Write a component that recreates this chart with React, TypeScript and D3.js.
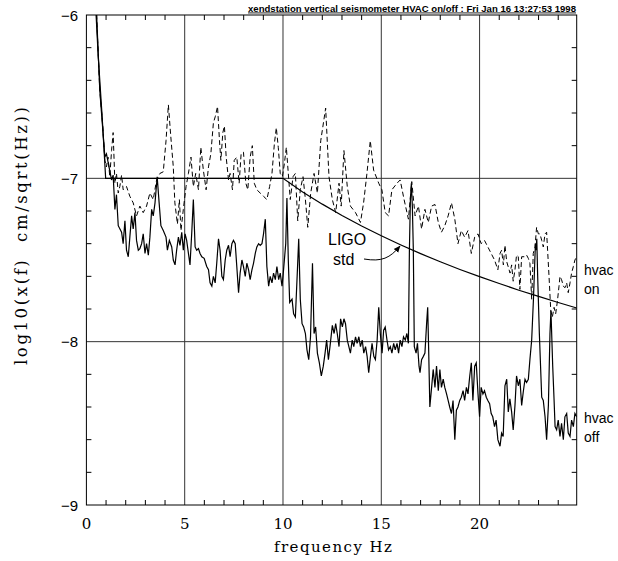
import React from 'react';
import * as d3 from 'd3';

const titleText = 'xendstation vertical seismometer HVAC on/off : Fri Jan 16 13:27:53 1998';
const xTickValues = [0, 5, 10, 15, 20];
const xTickLabels = ['0', '5', '10', '15', '20'];
const yTickValues = [-6, -7, -8, -9];
const yTickLabels = ['\u22126', '\u22127', '\u22128', '\u22129'];
const xGridValues = [5, 10, 15, 20];
const yGridValues = [-7, -8];

// hvac on (dashed)
const hvacOn: [number, number][] = [
  [0.40,-5.85],[0.52,-6.0],[0.68,-6.46],[0.82,-6.66],[0.94,-6.89],[1.02,-6.93],[1.1,-6.87],[1.19,-6.99],[1.28,-6.83],[1.36,-6.72],
  [1.45,-7.03],[1.53,-6.97],[1.62,-7.09],[1.70,-7.05],[1.79,-6.98],[1.87,-7.07],[2.04,-7.05],[2.21,-7.11],[2.38,-7.15],[2.55,-7.23],
  [2.72,-7.17],[2.89,-7.21],[3.06,-7.17],[3.23,-7.09],[3.40,-7.13],[3.57,-7.01],[3.74,-6.97],[3.91,-6.96],[4.05,-6.77],[4.17,-6.55],
  [4.29,-6.74],[4.42,-6.93],[4.50,-7.15],[4.63,-7.28],[4.73,-7.13],[4.81,-7.32],[4.93,-7.19],[5.07,-7.05],[5.19,-6.97],[5.32,-6.87],
  [5.44,-7.05],[5.56,-6.97],[5.70,-7.07],[5.82,-6.81],[5.95,-6.95],[6.09,-7.07],[6.21,-6.93],[6.33,-6.85],[6.46,-6.66],[6.56,-6.62],
  [6.67,-6.56],[6.77,-6.77],[6.84,-6.89],[6.94,-6.72],[7.02,-6.68],[7.11,-6.87],[7.23,-7.01],[7.31,-6.97],[7.43,-7.07],[7.52,-6.89],
  [7.65,-6.87],[7.77,-7.03],[7.87,-6.85],[7.99,-6.84],[8.11,-7.03],[8.21,-7.07],[8.33,-6.87],[8.44,-6.80],[8.54,-7.03],[8.67,-7.07],
  [8.84,-7.09],[9.01,-7.11],[9.18,-7.13],[9.32,-7.05],[9.44,-6.97],[9.56,-6.79],[9.66,-6.69],[9.76,-6.81],[9.86,-6.97],[9.97,-6.99],
  [10.07,-6.91],[10.17,-6.81],[10.27,-6.97],[10.37,-7.13],[10.51,-6.99],[10.63,-6.97],[10.75,-7.26],[10.88,-7.07],[11.02,-6.99],[11.14,-7.13],
  [11.26,-7.30],[11.41,-7.09],[11.58,-6.97],[11.75,-7.09],[11.92,-6.77],[12.17,-6.57],[12.34,-6.99],[12.51,-7.13],[12.68,-7.21],[12.85,-7.03],
  [12.96,-7.17],[13.1,-6.83],[13.27,-7.05],[13.43,-7.17],[13.69,-7.21],[13.94,-7.27],[14.1,-7.15],[14.27,-6.97],[14.44,-6.77],[14.61,-6.95],
  [14.87,-7.03],[15.03,-7.07],[15.2,-7.21],[15.37,-7.23],[15.54,-7.07],[15.8,-7.03],[15.96,-7.01],[16.16,-7.13],[16.38,-7.25],[16.55,-7.02],
  [16.72,-7.23],[16.89,-7.17],[17.05,-7.31],[17.22,-7.19],[17.39,-7.27],[17.56,-7.17],[17.73,-7.16],[17.9,-7.27],[18.06,-7.33],[18.23,-7.29],
  [18.4,-7.23],[18.57,-7.15],[18.74,-7.25],[18.9,-7.40],[19.07,-7.32],[19.24,-7.36],[19.41,-7.32],[19.58,-7.46],[19.75,-7.36],[19.92,-7.34],
  [20.08,-7.40],[20.25,-7.38],[20.42,-7.42],[20.59,-7.46],[20.76,-7.50],[20.93,-7.56],[21.04,-7.46],[21.12,-7.44],[21.21,-7.53],[21.29,-7.41],
  [21.38,-7.51],[21.55,-7.58],[21.63,-7.53],[21.71,-7.63],[21.80,-7.56],[21.88,-7.47],[21.97,-7.48],[22.05,-7.68],[22.14,-7.48],[22.3,-7.48],
  [22.39,-7.47],[22.48,-7.49],[22.56,-7.52],[22.65,-7.74],[22.73,-7.46],[22.82,-7.42],[22.9,-7.30],[22.99,-7.34],[23.07,-7.34],[23.16,-7.38],
  [23.24,-7.42],[23.33,-7.34],[23.41,-7.33],[23.46,-7.44],[23.55,-7.64],[23.62,-7.81],[23.7,-7.85],[23.79,-7.79],[23.87,-7.83],[23.96,-7.75],
  [24.04,-7.66],[24.09,-7.60],[24.17,-7.62],[24.26,-7.66],[24.34,-7.67],[24.43,-7.64],[24.51,-7.70],[24.6,-7.64],[24.68,-7.58],[24.77,-7.54],
  [24.85,-7.50],[24.94,-7.48]
];

// hvac off (solid)
const hvacOff: [number, number][] = [
  [0.40,-5.85],[0.52,-6.0],[0.68,-6.46],[0.94,-6.87],[1.02,-6.85],[1.15,-6.93],[1.28,-7.01],[1.36,-6.98],[1.45,-7.19],[1.53,-7.1],
  [1.62,-7.29],[1.79,-7.33],[1.87,-7.40],[1.96,-7.26],[2.04,-7.44],[2.13,-7.48],[2.21,-7.36],[2.30,-7.23],[2.38,-7.31],[2.47,-7.21],
  [2.55,-7.38],[2.64,-7.44],[2.72,-7.43],[2.81,-7.40],[2.89,-7.34],[2.98,-7.46],[3.06,-7.40],[3.15,-7.47],[3.23,-7.36],[3.32,-7.19],
  [3.40,-7.23],[3.49,-7.15],[3.60,-6.99],[3.70,-7.15],[3.79,-7.29],[3.91,-7.32],[4.05,-7.36],[4.12,-7.44],[4.22,-7.38],[4.34,-7.42],
  [4.42,-7.50],[4.51,-7.53],[4.59,-7.44],[4.68,-7.36],[4.76,-7.41],[4.85,-7.33],[4.93,-7.44],[5.02,-7.34],[5.10,-7.38],[5.27,-7.53],
  [5.36,-7.33],[5.44,-7.13],[5.53,-7.42],[5.61,-7.44],[5.70,-7.43],[5.78,-7.46],[5.87,-7.48],[5.99,-7.49],[6.12,-7.54],[6.21,-7.56],
  [6.29,-7.64],[6.38,-7.66],[6.46,-7.60],[6.55,-7.64],[6.63,-7.52],[6.72,-7.37],[6.80,-7.44],[6.89,-7.60],[6.97,-7.62],[7.06,-7.50],
  [7.14,-7.44],[7.23,-7.41],[7.31,-7.48],[7.40,-7.40],[7.48,-7.38],[7.57,-7.40],[7.65,-7.54],[7.74,-7.70],[7.82,-7.58],[7.91,-7.50],
  [7.99,-7.54],[8.08,-7.60],[8.16,-7.52],[8.25,-7.56],[8.33,-7.62],[8.42,-7.56],[8.50,-7.52],[8.59,-7.46],[8.67,-7.42],[8.76,-7.40],
  [8.84,-7.41],[8.93,-7.40],[9.01,-7.34],[9.10,-7.25],[9.18,-7.54],[9.27,-7.66],[9.35,-7.60],[9.44,-7.64],[9.52,-7.58],[9.61,-7.62],
  [9.69,-7.54],[9.78,-7.62],[9.86,-7.58],[9.95,-7.66],[10.0,-7.60],[10.07,-7.50],[10.14,-7.40],[10.2,-7.12],[10.27,-7.50],[10.34,-7.76],
  [10.46,-7.74],[10.54,-7.83],[10.63,-7.85],[10.72,-7.60],[10.80,-7.37],[10.88,-7.74],[10.97,-7.89],[11.05,-7.91],[11.14,-7.95],[11.22,-8.05],
  [11.31,-8.11],[11.40,-7.97],[11.50,-7.52],[11.58,-7.95],[11.66,-7.91],[11.75,-8.07],[11.85,-8.13],[11.95,-8.21],[12.05,-8.15],[12.14,-8.07],
  [12.22,-7.99],[12.31,-8.11],[12.39,-8.03],[12.51,-7.90],[12.6,-7.95],[12.68,-7.89],[12.76,-7.95],[12.85,-8.03],[12.93,-7.86],[13.02,-7.91],
  [13.1,-7.86],[13.18,-7.89],[13.27,-7.99],[13.35,-8.03],[13.43,-8.07],[13.52,-7.99],[13.6,-8.03],[13.69,-7.97],[13.77,-8.01],[13.86,-7.97],
  [13.94,-8.03],[14.03,-7.99],[14.11,-8.07],[14.2,-8.03],[14.28,-8.09],[14.36,-8.19],[14.45,-8.09],[14.53,-8.01],[14.62,-8.09],[14.7,-8.11],
  [14.79,-7.99],[14.87,-7.79],[14.95,-7.95],[15.04,-8.07],[15.12,-7.93],[15.2,-7.91],[15.29,-7.99],[15.37,-8.05],[15.46,-8.03],[15.54,-8.07],
  [15.63,-8.01],[15.71,-8.05],[15.8,-8.01],[15.88,-8.07],[15.96,-7.99],[16.05,-8.03],[16.13,-7.97],[16.22,-7.99],[16.3,-7.95],[16.38,-8.01],
  [16.43,-7.44],[16.48,-7.13],[16.53,-7.03],[16.58,-7.17],[16.63,-7.44],[16.68,-8.03],[16.77,-8.07],[16.84,-8.01],[16.92,-8.15],[16.97,-8.19],
  [17.05,-8.11],[17.14,-8.09],[17.22,-8.07],[17.31,-7.88],[17.36,-7.79],[17.41,-8.05],[17.47,-8.40],[17.56,-8.28],[17.64,-8.17],[17.73,-8.28],
  [17.81,-8.15],[17.9,-8.30],[17.98,-8.17],[18.06,-8.28],[18.15,-8.23],[18.23,-8.28],[18.32,-8.32],[18.4,-8.36],[18.48,-8.40],[18.57,-8.44],
  [18.65,-8.36],[18.74,-8.60],[18.82,-8.42],[18.9,-8.40],[18.99,-8.36],[19.07,-8.34],[19.16,-8.30],[19.24,-8.36],[19.33,-8.28],[19.41,-8.32],
  [19.5,-8.21],[19.58,-8.13],[19.66,-8.36],[19.75,-8.15],[19.83,-8.13],[19.92,-8.32],[20.0,-8.46],[20.08,-8.28],[20.17,-8.32],[20.25,-8.30],
  [20.34,-8.34],[20.42,-8.36],[20.51,-8.38],[20.59,-8.44],[20.67,-8.46],[20.76,-8.52],[20.84,-8.48],[20.93,-8.60],[21.04,-8.64],[21.12,-8.56],
  [21.2,-8.58],[21.29,-8.27],[21.38,-8.23],[21.46,-8.43],[21.54,-8.35],[21.63,-8.43],[21.71,-8.54],[21.8,-8.39],[21.88,-8.21],[21.97,-8.27],
  [22.05,-8.23],[22.14,-8.39],[22.22,-8.31],[22.31,-8.23],[22.39,-8.25],[22.48,-8.23],[22.56,-8.11],[22.65,-7.99],[22.74,-7.74],[22.84,-7.40],
  [22.87,-7.44],[22.91,-7.37],[22.95,-7.58],[23.04,-7.95],[23.16,-8.34],[23.24,-8.36],[23.33,-8.46],[23.41,-8.60],[23.5,-8.39],[23.58,-7.95],
  [23.63,-7.81],[23.72,-8.15],[23.79,-8.36],[23.84,-8.52],[23.92,-8.54],[24.0,-8.48],[24.09,-8.58],[24.17,-8.50],[24.26,-8.60],[24.34,-8.46],
  [24.43,-8.44],[24.51,-8.56],[24.6,-8.58],[24.68,-8.48],[24.77,-8.52],[24.85,-8.44],[24.94,-8.46]
];

// LIGO std curve
const ligoStd: [number, number][] = [
  [0.45,-5.90],[0.6,-6.25],[0.8,-6.62],[0.98,-7.0],[2,-7.0],[4,-7.0],[6,-7.0],[8,-7.0],[10,-7.0],
  [11,-7.083],[12,-7.158],[13,-7.228],[14,-7.292],[15,-7.352],[16,-7.408],[17,-7.461],[18,-7.511],
  [19,-7.558],[20,-7.602],[21,-7.644],[22,-7.685],[23,-7.723],[24,-7.760],[24.94,-7.794]
];

const ligoLabel = ['LIGO', 'std'];
const hvacOnLabel = ['hvac', 'on'];
const hvacOffLabel = ['hvac', 'off'];

export default function App() {
  const W = 618, H = 561;
  const L = 86.4, R = 576.7, T = 15, B = 505;
  const x = d3.scaleLinear().domain([0, 24.94]).range([L, R]);
  const y = d3.scaleLinear().domain([-9, -6]).range([B, T]);
  const line = d3.line<[number, number]>().x(d => x(d[0])).y(d => y(d[1]));

  const xMinor = d3.range(1, 25).filter(v => v % 5 !== 0);
  const yMinor = d3.range(-8.8, -6.1, 0.2).map(v => +v.toFixed(1)).filter(v => Math.abs(v - Math.round(v)) > 0.01);

  const serif = '"DejaVu Serif", "Liberation Serif", serif';
  const sans = '"Liberation Sans", Arial, sans-serif';

  return (
    <svg width={W} height={H} style={{ position: 'absolute', left: 0, top: 0, background: '#fff' }}>
      <defs>
        <clipPath id="plotclip">
          <rect x={L} y={T} width={R - L} height={B - T} />
        </clipPath>
        <marker id="arr" viewBox="0 0 10 10" refX="9" refY="5" markerWidth="7" markerHeight="7" orient="auto">
          <path d="M0,1 L10,5 L0,9 Z" fill="#000" />
        </marker>
      </defs>
      <rect x={0} y={0} width={W} height={H} fill="#fff" />

      {/* grid */}
      {xGridValues.map(v => (
        <line key={'gx' + v} x1={x(v)} x2={x(v)} y1={T} y2={B} stroke="#333" strokeWidth={1} />
      ))}
      {yGridValues.map(v => (
        <line key={'gy' + v} x1={L} x2={R} y1={y(v)} y2={y(v)} stroke="#333" strokeWidth={1} />
      ))}

      {/* minor ticks */}
      {xMinor.map(v => (
        <g key={'tx' + v}>
          <line x1={x(v)} x2={x(v)} y1={B} y2={B - 5} stroke="#000" strokeWidth={1} />
          <line x1={x(v)} x2={x(v)} y1={T} y2={T + 5} stroke="#000" strokeWidth={1} />
        </g>
      ))}
      {yMinor.map(v => (
        <g key={'ty' + v}>
          <line x1={L} x2={L + 5} y1={y(v)} y2={y(v)} stroke="#000" strokeWidth={1} />
          <line x1={R} x2={R - 5} y1={y(v)} y2={y(v)} stroke="#000" strokeWidth={1} />
        </g>
      ))}

      {/* data */}
      <g clipPath="url(#plotclip)" fill="none">
        <path d={line(ligoStd) || ''} stroke="#000" strokeWidth={1.2} />
        <path d={line(hvacOn) || ''} stroke="#000" strokeWidth={1} strokeDasharray="5,3" />
        <path d={line(hvacOff) || ''} stroke="#000" strokeWidth={1.2} />
      </g>

      {/* frame */}
      <rect x={L} y={T} width={R - L} height={B - T} fill="none" stroke="#000" strokeWidth={1} />

      {/* tick labels */}
      {xTickValues.map((v, i) => (
        <text key={'xl' + v} x={x(v)} y={529} textAnchor="middle" fontFamily={serif} fontSize={15}>{xTickLabels[i]}</text>
      ))}
      {yTickValues.map((v, i) => (
        <text key={'yl' + v} x={78} y={y(v) + 5.5} textAnchor="end" fontFamily={sans} fontSize={15}>{yTickLabels[i]}</text>
      ))}

      {/* axis titles */}
      <text x={274} y={552} fontFamily={serif} fontSize={15} textLength={118} lengthAdjust="spacing">frequency Hz</text>
      <text transform={`translate(27,365) rotate(-90)`} fontFamily={serif} fontSize={16.5} textLength={258} lengthAdjust="spacing" style={{ whiteSpace: 'pre' }}>{'log10(x(f)  cm/sqrt(Hz))'}</text>

      {/* title */}
      <text x={576} y={11.5} textAnchor="end" fontFamily={sans} fontWeight="bold" fontSize={8.5} textLength={328} lengthAdjust="spacingAndGlyphs" textDecoration="underline">{titleText}</text>

      {/* annotations */}
      <text x={328} y={245} fontFamily={sans} fontSize={16}>{ligoLabel[0]}</text>
      <text x={333} y={265} fontFamily={sans} fontSize={16}>{ligoLabel[1]}</text>
      <path d="M364,259 C382,262 390,258 400,246" fill="none" stroke="#000" strokeWidth={1} markerEnd="url(#arr)" />

      <text x={584} y={275} fontFamily={sans} fontSize={14}>{hvacOnLabel[0]}</text>
      <text x={584} y={294} fontFamily={sans} fontSize={14}>{hvacOnLabel[1]}</text>
      <text x={584} y={423} fontFamily={sans} fontSize={14}>{hvacOffLabel[0]}</text>
      <text x={584} y={442} fontFamily={sans} fontSize={14}>{hvacOffLabel[1]}</text>
    </svg>
  );
}
